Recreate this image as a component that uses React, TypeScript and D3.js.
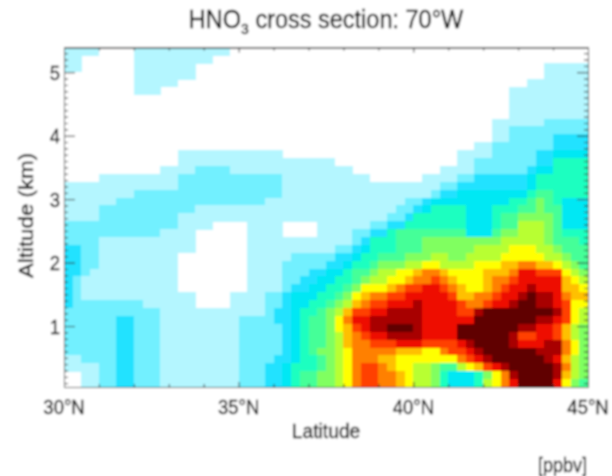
import React, { useEffect, useRef } from 'react';
import * as d3 from 'd3';

const width = 612;
const height = 476;

// colour class of each cell, 0 (lowest) to f (highest), top row first, west to east
const cellRows = [
  '111100001111111111100000000 000000000000000000000000000000000',
  '110000001111111110000000000 000000000000000000000000000000000',
  '110000001111111000000000000 0000000000 0000000000 00000000 11111',
  '000000001111111000000000000 0000000000 0000000000 00000000 11111',
  '000000001111100000000000000 0000000000 0000000000 000000 1111111',
  '000000001110000000000000000 0000000000 0000000000 0000 111111111',
  '000000000000000000000000000 0000000000 0000000000 0000 111111111',
  '000000000000000000000000000 0000000000 0000000000 0000 111111111',
  '000000000000000000000000000 0000000000 0000000000 0000 111111111',
  '000000000000000000000000000 0000000000 0000000000 00 111111 22222',
  '000000000000000000000000000 0000000000 0000000000 00 11 2222 22222',
  '000000000000000000000000000 0000000000 0000000000 00 11 2222 2 3333',
  '000000000000000000000000000 0000000000 0000000000 11 22 2222 2 3333',
  '000000000000011111111111100 0000000000 00000000 11 11 22 222 3 3 4444',
  '000000000000011111111111111 1111 0000000000 0000 11 22 22 222 33 5555',
  '00000000000 1111 2222 11111111 111111 0000000000 11 11 22 22 22 3 44 5555',
  '0000 1111111 11 222222222222 11 11111111 000000 1111 22 33 3333 4 55 5555',
  '1111 111111111 222222222222 11 1111111111111111 22 33 33 3333 4 55 5555',
  '11111111 22222 222222222222 11 111111111111111 2 33 44 44 4444 5 66 5555',
  '111111 2222222 2222222222 1111 111111111111 22 3 4 44 44 44 44 55 6 7 6 5 444',
  '1111 222222222 22 111111111111 11111111111 2 2 3 4 5 55 5 444 5 5 5 6 6 7 6 6 444',
  '1111 222222222 11111111111111 1111111111 2 2 3 5 5 5 555 444 5 6 6 7 7 7 7 6 444',
  '2222222222222 1111 0000 1111 00 00 111111 22 33 5555 555 444 5 66 888 7 6 444',
  '22222222222 1111 000000 1111 00 00 1111 22 33 5 6 6 6 6 6 666 444 6 77 88 8 7 6 555',
  '2222 11111111111 000000 111111 111111 23 555 666 777777777 88888 7 666 5',
  '3322 11111111111 000000 111111 1111 22 3 4 555 666 777777 8888 999 88 7 666',
  '3322 111111111 00 000000 11111 2 2222 33 4 55 666 777 88 77 8888 99999 88 7 66',
  '3322 111111111 00000000 1111 22 222 33 4 55 6 777 88 99 8888 999 aa bb aa 9 8 7 6',
  '332 1 111111111 00000000 1111 22 2 33 44 5 66 7 88 99 a bb a 9999 aaa b dd ccc 9 8 7',
  '32 1 1 111111111 00000000 1111 22 33 44 55 6 7 88 99 a bb c b a 999 a bb c ddddd a 9 8',
  '32 11 111111111 00000000 1111 2 3 3 44 55 6 7 999 a b cc dd c b a 99 a b c dd e ddd aa 9',
  '32 11 111111111 11 0000 11 11 22 3 4 44 55 6 7 9 a bb cc ddddd c aa bb c dd e f ee d b aa',
  '3 22222222 11 1111 0000 1111 22 3 4 4 55 6 7 8 a b cc ddd e dddd c bb c dd e ff ee d c 99',
  '22222222222 111111111111 2 3 3 4 55 6 7 8 a cc dd eeee dddd cc e ffffffff e c 9 8',
  '222222 33 222 111111111 222 2 3 3 4 5 66 7 9 b dd eeeeee dddddd fffffff ee d c 9 8',
  '222222 33 222 111111111 222 22 3 4 5 66 7 9 a c d ee fff e dddd fffffff ee dd c a 8 7',
  '222222 33 222 111111111 222 22 3 4 5 66 7 8 a b c dd eeee dddd ffffff e cc dd c a 8 7',
  '222222 33 222 111111111 222 22 3 4 5 66 7 8 a bb ccc ddd cccc d e ffff e ddd ee b 9 7',
  '222222 33 222 111111111 222 22 3 4 5 6 77 8 9 bbbbb aaa 99 b cc d e ffffff eee b 9 7',
  '11 2222 33 222 111111111 222 2 3 3 4 55 6 7 8 9 bbb aa 9999999 b c d e ffffff e d a 8 7',
  '1111 22 33 222 111111111 222 3 3 4 5 55 6 7 8 9 b cc b a 99 88 7 66 8 9 a c d e fffff e b 8 7',
  '00 11 22 33 222 111111111 222 3 3 4 5 66 77 8 9 b cc bb a 9 88 7 5 444 5 7 9 b e ffff e a 8 7',
  '00 11 22 33 222 111111111 222 3 3 4 5 66 77 8 9 b cc bb a 9 88 7 5 444 5 8 9 b d ffff d 9 7 6',
].map((r) => r.replace(/ /g, ''));

const classColors = [
  '#ffffff', '#b4f6ff', '#72f0ff', '#20e2ff', '#00e8f4', '#1effc0', '#44ff98', '#80ff60',
  '#b8ff30', '#ffff00', '#ffc000', '#ff8000', '#ff4000', '#ee1000', '#a80000', '#600000',
];

const latTicks = [30, 35, 40, 45];
const altTicks = [1, 2, 3, 4, 5];
const latMinor = [31, 32, 33, 34, 36, 37, 38, 39, 41, 42, 43, 44];
const altMinor = d3.range(1, 54).map((d) => d / 10).filter((d) => d % 1 !== 0);

const margin = { left: 64, right: 24, top: 47.5, bottom: 89 };

export default function App() {
  const ref = useRef<SVGSVGElement>(null);

  useEffect(() => {
    const svg = d3.select(ref.current);
    svg.selectAll('*').remove();

    const x = d3.scaleLinear().domain([30, 45]).range([margin.left, width - margin.right]);
    const y = d3.scaleLinear().domain([0.04, 5.39]).range([height - margin.bottom, margin.top]);
    const colBand = d3.scaleBand<number>().domain(d3.range(60)).range(x.range() as [number, number]);
    const rowBand = d3.scaleBand<number>().domain(d3.range(cellRows.length)).range([margin.top, height - margin.bottom]);
    const color = d3.scaleOrdinal<number, string>().domain(d3.range(16)).range(classColors);

    svg.append('defs').append('filter').attr('id', 'soft')
      .attr('x', 0).attr('y', 0).attr('width', 1).attr('height', 1)
      .append('feGaussianBlur').attr('stdDeviation', 0.8);

    const root = svg.append('g').attr('filter', 'url(#soft)');
    root.append('rect').attr('width', width).attr('height', height).attr('fill', '#fff');

    // cells
    const cells = cellRows.flatMap((row, r) => row.split('').map((c, i) => ({ r, i, v: parseInt(c, 16) })));
    root.append('g').attr('shape-rendering', 'crispEdges')
      .selectAll('rect')
      .data(cells.filter((d) => d.v > 0))
      .enter()
      .append('rect')
      .attr('x', (d) => colBand(d.i)!)
      .attr('y', (d) => rowBand(d.r)!)
      .attr('width', colBand.bandwidth() + 0.5)
      .attr('height', rowBand.bandwidth() + 0.5)
      .attr('fill', (d) => color(d.v));

    // ticks on all four sides
    const axisColor = '#333';
    const sides = [
      { gen: d3.axisBottom(x), at: `translate(0,${y.range()[0]})`, values: latMinor, size: -3 },
      { gen: d3.axisBottom(x), at: `translate(0,${y.range()[0]})`, values: latTicks, size: -5 },
      { gen: d3.axisTop(x), at: `translate(0,${y.range()[1]})`, values: latMinor, size: -3 },
      { gen: d3.axisTop(x), at: `translate(0,${y.range()[1]})`, values: latTicks, size: -5 },
      { gen: d3.axisLeft(y), at: `translate(${x.range()[0]},0)`, values: altMinor, size: -4 },
      { gen: d3.axisLeft(y), at: `translate(${x.range()[0]},0)`, values: altTicks, size: -11 },
      { gen: d3.axisRight(y), at: `translate(${x.range()[1]},0)`, values: altMinor, size: -4 },
      { gen: d3.axisRight(y), at: `translate(${x.range()[1]},0)`, values: altTicks, size: -11 },
    ];
    sides.forEach((s) => {
      const g = root.append('g').attr('transform', s.at)
        .call(s.gen.tickValues(s.values).tickSize(s.size).tickSizeOuter(0).tickFormat(() => ''));
      g.selectAll('path,line').attr('stroke', axisColor);
    });

    const label = (txt: string, px: number, py: number, size: number, sx: number, anchor: string) =>
      root.append('text')
        .attr('transform', `translate(${px},${py}) scale(${sx},1)`)
        .attr('text-anchor', anchor)
        .attr('font-family', '"Liberation Sans", Arial, sans-serif')
        .attr('font-size', size)
        .attr('fill', '#000')
        .attr('stroke', '#000')
        .attr('stroke-width', 0.3)
        .text(txt);

    latTicks.forEach((d) => label(`${d}°N`, x(d), 414, 21, 0.88, 'middle'));
    altTicks.forEach((d) => label(String(d), 60, y(d) + 7.5, 21, 0.88, 'end'));
    label('Latitude', 326, 438, 21, 0.92, 'middle');
    label('[ppbv]', 587, 472, 20, 0.9, 'end');

    root.append('text')
      .attr('transform', 'translate(33,215.5) rotate(-90) scale(1,0.88)')
      .attr('text-anchor', 'middle')
      .attr('font-family', '"Liberation Sans", Arial, sans-serif')
      .attr('font-size', 22.3)
      .attr('fill', '#000')
      .attr('stroke', '#000')
      .attr('stroke-width', 0.3)
      .text('Altitude (km)');

    // title, with the subscript 3
    const title = label('', 326, 28, 25, 0.94, 'middle');
    title.append('tspan').text('HNO');
    title.append('tspan').attr('font-size', 15).attr('dy', 6).text('3');
    title.append('tspan').attr('dy', -6).text(' cross section: 70°W');
  }, []);

  return <svg ref={ref} width={width} height={height} style={{ position: 'absolute', left: 0, top: 0 }} />;
}
